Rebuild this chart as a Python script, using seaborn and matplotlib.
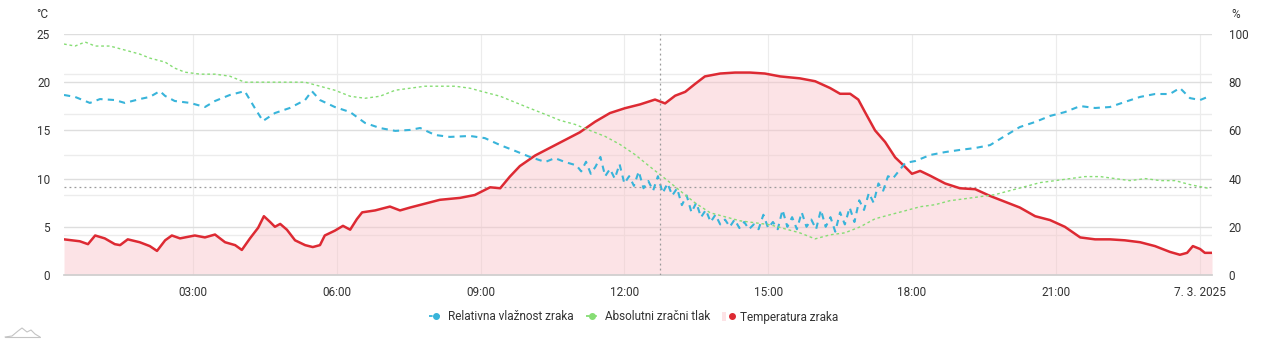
import numpy as np
import pandas as pd
import matplotlib
matplotlib.use("Agg")
import matplotlib.pyplot as plt
import seaborn as sns
from matplotlib.lines import Line2D
from matplotlib.patches import Patch
from matplotlib.legend_handler import HandlerTuple

# ---------------- data (hours since 6.3.2025 00:00) ----------------
temp_hours = [0.31, 0.64, 0.81, 0.96, 1.16, 1.37, 1.48, 1.64, 1.89, 2.10, 2.25, 2.42, 2.56, 2.73,
              3.04, 3.25, 3.46, 3.67, 3.88, 4.02, 4.19, 4.36, 4.48, 4.61, 4.71, 4.82, 4.96, 5.13,
              5.34, 5.50, 5.65, 5.75, 5.96, 6.13, 6.28, 6.42, 6.53, 6.80, 7.11, 7.32, 7.53, 7.84,
              8.15, 8.57, 8.88, 9.20, 9.41, 9.61, 9.82, 10.14, 10.45, 10.76, 11.07, 11.39, 11.70,
              12.01, 12.33, 12.64, 12.85, 13.06, 13.27, 13.47, 13.68, 14.00, 14.31, 14.62, 14.93,
              15.25, 15.66, 15.98, 16.29, 16.50, 16.71, 16.88, 17.02, 17.23, 17.44, 17.65, 17.86,
              18.00, 18.17, 18.38, 18.69, 19.00, 19.32, 19.63, 19.94, 20.25, 20.57, 20.88, 21.19,
              21.51, 21.82, 22.13, 22.44, 22.76, 23.07, 23.38, 23.59, 23.74, 23.86, 24.01, 24.11, 24.26]
temp_values = [3.7, 3.5, 3.2, 4.1, 3.8, 3.2, 3.1, 3.7, 3.4, 3.0, 2.5, 3.6, 4.1, 3.8,
               4.1, 3.9, 4.2, 3.4, 3.1, 2.6, 3.8, 4.9, 6.1, 5.5, 5.0, 5.3, 4.7, 3.6,
               3.1, 2.9, 3.1, 4.1, 4.6, 5.1, 4.7, 5.8, 6.5, 6.7, 7.1, 6.7, 7.0, 7.4,
               7.8, 8.0, 8.3, 9.1, 9.0, 10.2, 11.3, 12.4, 13.2, 14.0, 14.8, 15.9, 16.8,
               17.3, 17.7, 18.2, 17.8, 18.6, 19.0, 19.8, 20.6, 20.9, 21.0, 21.0, 20.9,
               20.6, 20.4, 20.1, 19.4, 18.8, 18.8, 18.2, 16.9, 15.0, 13.8, 12.2, 11.2,
               10.5, 10.8, 10.3, 9.5, 9.0, 8.9, 8.2, 7.6, 7.0, 6.1, 5.7, 5.0,
               3.9, 3.7, 3.7, 3.6, 3.4, 3.0, 2.4, 2.1, 2.3, 3.0, 2.7, 2.3, 2.3]

hum_hours = [0.31, 0.54, 0.85, 1.06, 1.37, 1.58, 1.89, 2.10, 2.31, 2.42, 2.62, 2.94, 3.25, 3.46,
             3.77, 4.08, 4.29, 4.46, 4.71, 5.02, 5.34, 5.48, 5.65, 5.96, 6.28, 6.59, 6.90, 7.22,
             7.53, 7.74, 8.05, 8.36, 8.78, 9.09, 9.41, 9.72, 10.03, 10.35, 10.55, 10.76,
             11.0, 11.1, 11.2, 11.3, 11.4, 11.5, 11.6, 11.7, 11.8, 11.9, 12.0, 12.1, 12.2, 12.3,
             12.4, 12.5, 12.6, 12.7, 12.8, 12.9, 13.0, 13.1, 13.2, 13.3, 13.4, 13.5, 13.6, 13.7,
             13.8, 13.9, 14.0, 14.1, 14.2, 14.3, 14.4, 14.5, 14.6, 14.7, 14.8, 14.9, 15.0, 15.1,
             15.2, 15.3, 15.4, 15.5, 15.6, 15.7, 15.8, 15.9, 16.0, 16.1, 16.2, 16.3, 16.4, 16.5,
             16.6, 16.7, 16.8, 16.9, 17.0, 17.1, 17.2, 17.3, 17.4, 17.5, 17.6,
             17.86, 18.07, 18.38, 18.69, 19.00, 19.32, 19.63, 19.94, 20.25, 20.57, 20.88, 21.19,
             21.51, 21.82, 22.13, 22.44, 22.76, 23.07, 23.38, 23.59, 23.80, 24.01, 24.22]
hum_values = [74.7, 73.9, 71.4, 73.0, 72.6, 71.4, 73.0, 73.9, 76.3, 74.3, 72.2, 71.4, 69.7, 72.2,
              74.7, 76.3, 69.3, 63.9, 67.2, 69.3, 72.6, 76.3, 72.6, 69.7, 67.6, 63.1, 61.0, 59.8,
              60.2, 61.0, 58.1, 57.3, 57.7, 56.8, 53.9, 51.5, 49.0, 46.9, 48.5, 46.9,
              45.5, 43, 47, 42, 45, 49, 41, 44, 40, 46, 38, 41, 37, 43,
              36, 39, 35, 41, 34, 38, 33, 36, 29, 33, 26, 30, 24, 27,
              22, 25, 21, 23, 20, 23, 19.5, 22, 19, 21, 19, 25, 19.5, 22,
              19, 27, 20, 24, 19, 26, 20, 23, 19, 27, 20, 24, 18, 26,
              21, 28, 22, 31, 27, 34, 30, 38, 35, 41, 40,
              46.5, 47.3, 49.8, 51.0, 51.9, 52.7, 53.9, 57.7, 61.4, 63.5, 66.0, 67.6,
              70.1, 69.3, 69.7, 71.8, 73.9, 75.1, 75.1, 77.6, 73.4, 72.6, 74.3]

pres_hours = [0.31, 0.54, 0.75, 0.96, 1.27, 1.58, 1.89, 2.10, 2.42, 2.62, 2.83, 3.15, 3.46, 3.77,
              4.08, 4.40, 4.71, 5.02, 5.34, 5.65, 5.96, 6.28, 6.59, 6.90, 7.22, 7.53, 7.84, 8.15,
              8.47, 8.78, 9.09, 9.41, 9.72, 10.03, 10.35, 10.66, 10.97, 11.28, 11.60, 11.91, 12.22,
              12.53, 12.85, 13.16, 13.47, 13.79, 14.10, 14.41, 14.73, 15.04, 15.35, 15.66, 15.98,
              16.29, 16.60, 16.92, 17.23, 17.54, 17.86, 18.17, 18.48, 18.79, 19.11, 19.42, 19.73,
              20.04, 20.36, 20.67, 20.99, 21.30, 21.61, 21.93, 22.24, 22.55, 22.87, 23.18, 23.49,
              23.80, 24.01, 24.22]
pres_values = [999.5, 999.4, 999.6, 999.4, 999.4, 999.2, 999.0, 998.8, 998.6, 998.3, 998.1, 998.0,
               998.0, 997.9, 997.6, 997.6, 997.6, 997.6, 997.6, 997.4, 997.2, 996.9, 996.8, 996.9,
               997.2, 997.3, 997.4, 997.4, 997.4, 997.3, 997.1, 996.9, 996.6, 996.3, 996.0, 995.7,
               995.5, 995.2, 994.9, 994.5, 994.0, 993.4, 992.8, 992.2, 991.6, 991.1, 990.9, 990.7,
               990.6, 990.5, 990.3, 990.1, 989.8, 990.0, 990.1, 990.4, 990.8, 991.0, 991.2, 991.4,
               991.5, 991.7, 991.8, 991.9, 992.0, 992.2, 992.4, 992.6, 992.7, 992.8, 992.9, 992.9,
               992.8, 992.7, 992.8, 992.7, 992.7, 992.5, 992.4, 992.3]

x_tick_hours = [3, 6, 9, 12, 15, 18, 21, 24]
x_tick_labels = ["03:00", "06:00", "09:00", "12:00", "15:00", "18:00", "21:00", "7. 3. 2025"]
left_ticks = [0, 5, 10, 15, 20, 25]
right_ticks = [0, 20, 40, 60, 80, 100]
pres_ticks = [988, 990, 992, 994, 996, 998, 1000]
cursor_hour = 12.74
cursor_temp = 9.13

labels = ["Relativna vlažnost zraka", "Absolutni zračni tlak", "Temperatura zraka"]

# ---------------- style ----------------
sns.set_theme(style="white")
plt.rcParams['font.family'] = ['Roboto', 'DejaVu Sans']
TXT = '#333333'
RED = '#dd2a33'
BLUE = '#38b4da'
GREEN = '#86dd74'
FILL = '#fde3e6'

fig = plt.figure(figsize=(12.8, 3.41), dpi=100)
ax = fig.add_axes([0.05, 0.1935, 0.8969, 0.7068])
ax2 = ax.twinx()
ax3 = ax.twinx()

df_t = pd.DataFrame({"h": temp_hours, "v": temp_values})
df_h = pd.DataFrame({"h": hum_hours, "v": hum_values})
df_p = pd.DataFrame({"h": pres_hours, "v": pres_values})

# temperature area + line
ax.fill_between(df_t["h"], df_t["v"], 0, color='#f9c2c8', alpha=0.45, lw=0, zorder=1)
sns.lineplot(data=df_t, x="h", y="v", ax=ax, color=RED, lw=1.8, zorder=3)

# humidity
sns.lineplot(data=df_h, x="h", y="v", ax=ax2, color=BLUE, lw=1.5,
             linestyle=(0, (3, 2.5)))
# pressure
sns.lineplot(data=df_p, x="h", y="v", ax=ax3, color=GREEN, lw=1.0,
             linestyle=(0, (2, 2)))

xmin, xmax = 0.31, 24.26
for a in (ax, ax2, ax3):
    a.set_xlim(xmin, xmax)
    a.set_xlabel("")
    a.set_ylabel("")
    for s in a.spines.values():
        s.set_visible(False)

ax.set_ylim(0, 25)
ax2.set_ylim(0, 100)
ax3.set_ylim(988, 1000)

# grid
ax.set_axisbelow(True)
ax.set_yticks(left_ticks)
ax.set_yticks(np.linspace(0, 25, 7), minor=True)
ax.grid(axis='y', which='major', color='#dedede', lw=1.0)
ax.grid(axis='y', which='minor', color='#ececec', lw=1.0)
ax.set_xticks(x_tick_hours, x_tick_labels)
ax.grid(axis='x', which='major', color='#ececec', lw=0.8)
ax.spines['bottom'].set_visible(True)
ax.spines['bottom'].set_color('#cfcfcf')

ax.tick_params(axis='y', which='both', length=0, pad=10, labelsize=8.5, labelcolor=TXT)
ax.tick_params(axis='x', length=0, pad=8, labelsize=8.5, labelcolor=TXT)

ax2.set_yticks(right_ticks)
ax2.tick_params(axis='y', length=0, pad=12, labelsize=8.5, labelcolor=TXT)
ax2.grid(False)
ax3.set_yticks(pres_ticks)
ax3.yaxis.set_visible(False)
ax3.grid(False)

# cursor crosshair
ax3.axvline(cursor_hour, color='#9a9a9a', lw=0.9, ls=(0, (1.5, 2.5)), zorder=5)
ax.axhline(cursor_temp, color='#9a9a9a', lw=0.9, ls=(0, (1.5, 2.5)), zorder=2)

# unit labels
fig.text(42 / 1280, 1 - 14 / 341, "°C", ha='center', va='center', fontsize=8.5, color=TXT)
fig.text(1236 / 1280, 1 - 14 / 341, "%", ha='center', va='center', fontsize=8.5, color=TXT)

# legend
h_blue = Line2D([], [], color=BLUE, ls=(0, (2, 2)), lw=1.3, marker='o', ms=4)
h_green = Line2D([], [], color=GREEN, ls=(0, (2, 2)), lw=1.3, marker='o', ms=4)
h_temp = (Patch(facecolor=FILL, edgecolor='none'),
          Line2D([], [], color=RED, ls=(0, (2, 2)), lw=1.3, marker='o', ms=4))
fig.legend([h_blue, h_green, h_temp], labels, loc='center',
           bbox_to_anchor=(634 / 1280, 1 - 317 / 341), ncol=3, frameon=False,
           fontsize=8.5, labelcolor=TXT, handlelength=1.1, handletextpad=0.5,
           columnspacing=1.0, handler_map={tuple: HandlerTuple(ndivide=None)})

# small logo bottom-left
lx = np.array([5, 12, 18, 22, 27, 31, 35, 40]) / 1280
ly = 1 - np.array([337, 336, 331, 328, 332, 330, 334, 337]) / 341
fig.add_artist(Line2D(lx, ly, color='#c4c4c4', lw=0.8))
fig.add_artist(Line2D([5 / 1280, 40 / 1280], [1 - 337 / 341] * 2, color='#c4c4c4', lw=0.8))

fig.savefig("out.png", dpi=100, facecolor='white')
